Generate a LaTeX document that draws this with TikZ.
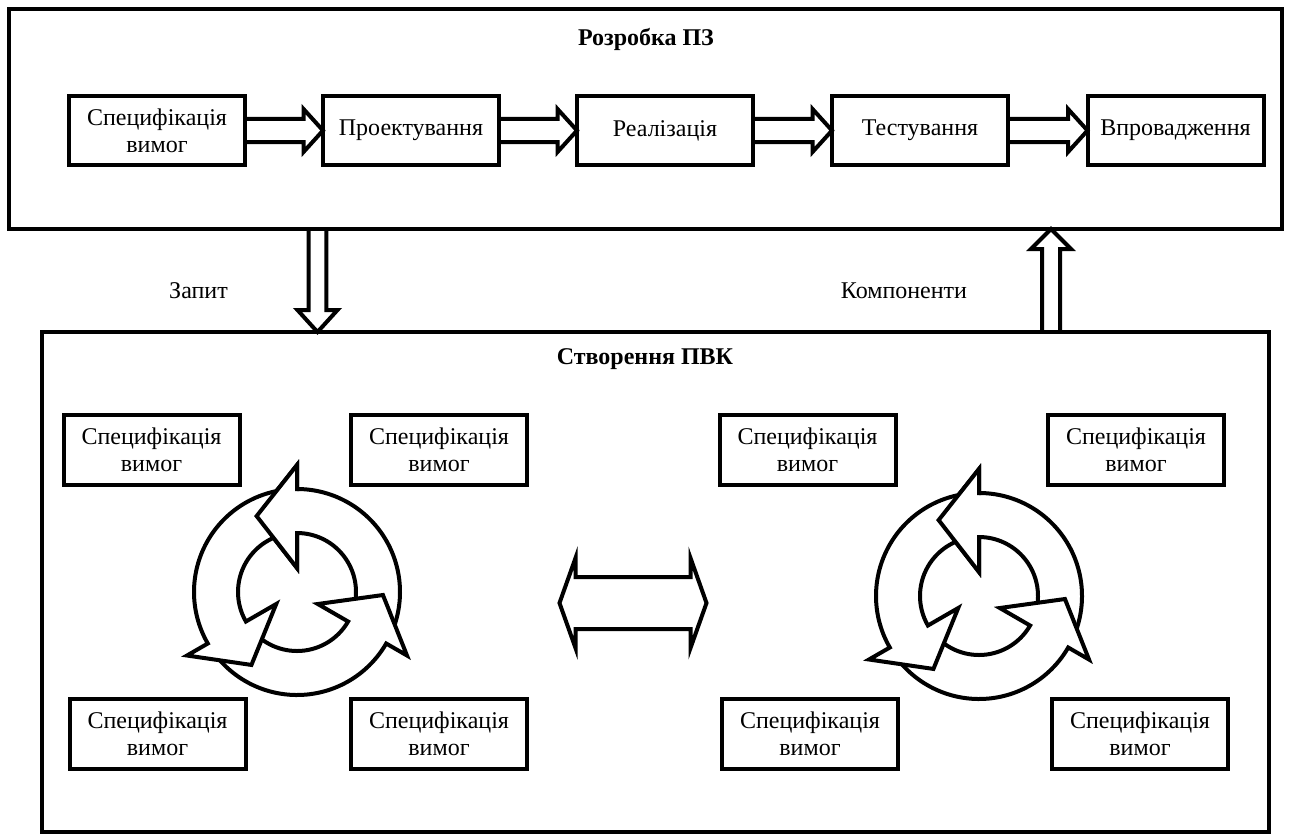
\documentclass[tikz,border=0pt]{standalone}
\usepackage{fontspec}
\setmainfont{Liberation Serif}
\usetikzlibrary{calc}

\tikzset{
  panel/.style={draw, line width=3pt, inner sep=0pt, outer sep=0pt},
  stagebox/.style={draw, line width=3pt, inner sep=0pt, outer sep=0pt,
    minimum width=132pt, minimum height=52pt, align=center,
    font=\fontsize{18}{20.25}\selectfont},
  heading/.style={font=\bfseries\fontsize{18}{20.25}\selectfont, anchor=base, inner sep=0pt},
  caption/.style={font=\fontsize{18}{20.25}\selectfont, anchor=base, inner sep=0pt},
  blockarrow/.style={draw, line width=3pt, line join=miter},
  cyc/.style={draw, line width=3pt, fill=white, line join=miter},
}

% hollow block arrow from the east side of one stage to the west side of the next
\newcommand\flowarrow[2]{%
  \draw[blockarrow] let \p1=(#1.east), \p2=(#2.west) in
    (\x1,\y1+8.8pt) -- (\x2-14.5pt,\y1+8.8pt) -- (\x2-14.5pt,\y1+16pt) -- (\x2,\y1)
    -- (\x2-14.5pt,\y1-16pt) -- (\x2-14.5pt,\y1-8.8pt) -- (\x1,\y1-8.8pt);}

% ring of three curved arrows around a centre
\newcommand\cyclering[1]{%
  \begin{scope}[shift={(#1)}, yscale=-1]
    \foreach \t in {90,-30,210}{
      \draw[cyc] ({\t-115}:103) arc[start angle=\t-115, end angle=\t, radius=103]
        -- (\t:127) -- ({\t+28}:86) -- (\t:24) -- (\t:59)
        arc[start angle=\t, end angle=\t-115, radius=59] -- cycle;
    }
    % the first head sits on top of the tail of the last arrow
    \fill[white] (90:127) -- (118:86) -- (90:24) -- cycle;
    \draw[cyc, fill=none, line cap=rect] (90:103) -- (90:127) -- (118:86) -- (90:24) -- (90:59);
  \end{scope}}

\begin{document}
\begin{tikzpicture}[x=0.75pt, y=-0.75pt]
\useasboundingbox (0,0) rectangle (1291,836);

% outer frames
\node[panel, minimum width=954.4pt, minimum height=165pt] (devframe) at (645.75,119) {};
\node[panel, minimum width=920.25pt, minimum height=375pt] (pvkframe) at (655.5,582) {};

\node[heading] (devtitle) at (646,45) {Розробка ПЗ};
\node[heading] (pvktitle) at (645,364) {Створення ПВК};

% development stages
\node[stagebox] (s1) at (157,130.5) {Специфікація\\вимог};
\node[stagebox] (s2) at (411,130.5) {Проектування};
\node[stagebox] (s3) at (665,130.5) {Реалізація};
\node[stagebox] (s4) at (920,130.5) {Тестування};
\node[stagebox] (s5) at (1175.5,130.5) {Впровадження};

\flowarrow{s1}{s2}
\flowarrow{s2}{s3}
\flowarrow{s3}{s4}
\flowarrow{s4}{s5}

% request and components between the frames
\coordinate (reqx) at (317.5,0);
\coordinate (compx) at (1051,0);
\draw[blockarrow] let \p1=(reqx |- devframe.south), \p2=(reqx |- pvkframe.north) in
  (\x1-6.6pt,\y1) -- (\x1-6.6pt,\y2+16.5pt) -- (\x1-15pt,\y2+16.5pt) -- (\x1,\y2)
  -- (\x1+15pt,\y2+16.5pt) -- (\x1+6.6pt,\y2+16.5pt) -- (\x1+6.6pt,\y1);
\draw[blockarrow] let \p1=(compx |- pvkframe.north), \p2=(compx |- devframe.south) in
  (\x1-6.75pt,\y1) -- (\x1-6.75pt,\y2-15pt) -- (\x1-15pt,\y2-15pt) -- (\x1,\y2)
  -- (\x1+15pt,\y2-15pt) -- (\x1+6.75pt,\y2-15pt) -- (\x1+6.75pt,\y1);

\node[caption] (req) at (198.5,298) {Запит};
\node[caption] (comp) at (904,298) {Компоненти};

% component groups
\node[stagebox] (a1) at (151.5,450) {Специфікація\\вимог};
\node[stagebox] (a2) at (439,450) {Специфікація\\вимог};
\node[stagebox] (a3) at (157.5,734) {Специфікація\\вимог};
\node[stagebox] (a4) at (439,734) {Специфікація\\вимог};
\node[stagebox] (b1) at (807.5,450) {Специфікація\\вимог};
\node[stagebox] (b2) at (1136,450) {Специфікація\\вимог};
\node[stagebox] (b3) at (810,734) {Специфікація\\вимог};
\node[stagebox] (b4) at (1140,734) {Специфікація\\вимог};

\coordinate (lcyc) at (297,592);
\coordinate (rcyc) at (979,596);
\cyclering{lcyc}
\cyclering{rcyc}

% two-way exchange between the groups
\coordinate (mid) at (633.5,603);
\begin{scope}[shift={(mid)}]
  \draw[blockarrow] (-74,0) -- (-58,-45) -- (-58,-26) -- (57,-26) -- (57,-45) -- (73,0)
    -- (57,45) -- (57,26) -- (-58,26) -- (-58,45) -- cycle;
\end{scope}
\end{tikzpicture}
\end{document}
